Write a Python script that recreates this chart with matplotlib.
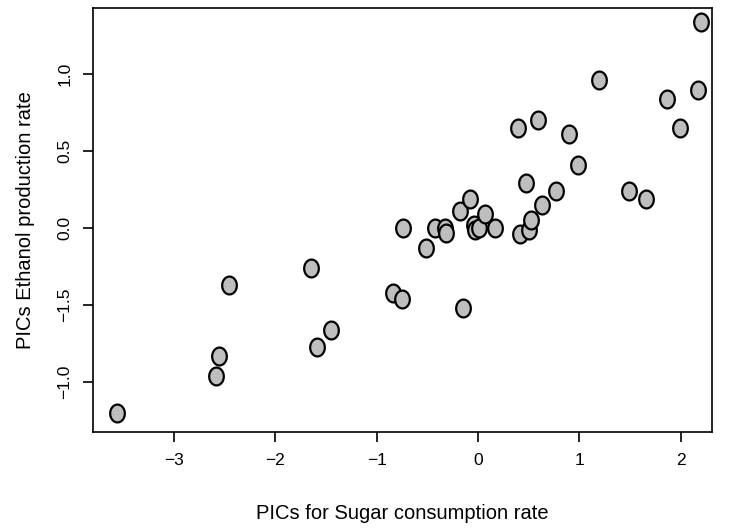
import matplotlib.pyplot as plt
import numpy as np
from matplotlib.path import Path

plt.rcParams['font.family'] = ['Liberation Sans', 'DejaVu Sans']

# PICs values
sugar_pic = [-3.56, -2.59, -2.56, -2.46, -1.65, -1.59, -1.45, -0.84, -0.75, -0.15,
             -0.74, -0.51, -0.42, -0.33, -0.32, -0.18, -0.08, -0.04, -0.03, 0.01,
             0.07, 0.17, 0.41, 0.50, 0.52, 0.47, 0.63, 0.77, 0.40, 0.59,
             0.90, 0.99, 1.19, 1.49, 1.66, 1.87, 1.99, 2.17, 2.20]
ethanol_pic = [-1.20, -0.96, -0.83, -0.37, -0.26, -0.77, -0.66, -0.42, -0.46, -0.52,
               0.00, -0.13, 0.00, 0.00, -0.03, 0.11, 0.19, 0.02, -0.01, 0.00,
               0.09, 0.00, -0.04, -0.01, 0.05, 0.29, 0.15, 0.24, 0.65, 0.70,
               0.61, 0.41, 0.96, 0.24, 0.19, 0.84, 0.65, 0.90, 1.34]

x_ticks = [-3, -2, -1, 0, 1, 2]
y_ticks = [1.0, 0.5, 0.0, -0.5, -1.0]
y_tick_labels = ['1.0', '0.5', '0.0', '\u22121.5', '\u22121.0']

# slightly tall ellipse marker
t = np.linspace(0, 2 * np.pi, 60)
ell = Path(np.column_stack([0.82 * np.cos(t), np.sin(t)]), closed=True)

fig = plt.figure(figsize=(7.32, 5.28), dpi=100)
ax = fig.add_axes([93 / 732, 96 / 528, 619 / 732, 424 / 528])

ax.scatter(sugar_pic, ethanol_pic, marker=ell, s=165, facecolor='#bebebe',
           edgecolor='black', linewidth=1.6, zorder=3)

ax.set_xlim(-3.80, 2.31)
ax.set_ylim(-1.325, 1.43)

ax.set_xticks(x_ticks)
ax.set_xticklabels(['\u2212%d' % -v if v < 0 else str(v) for v in x_ticks])
ax.set_yticks(y_ticks)
ax.set_yticklabels(y_tick_labels, rotation=90, va='center')
ax.tick_params(axis='both', direction='out', length=7, width=1.2, labelsize=12.5, pad=8)
for s in ax.spines.values():
    s.set_linewidth(1.2)

ax.set_xlabel('PICs for Sugar consumption rate', fontsize=14.5, labelpad=26)
ax.set_ylabel('PICs Ethanol production rate', fontsize=14.5, labelpad=16)

fig.savefig('out.png', dpi=100)
